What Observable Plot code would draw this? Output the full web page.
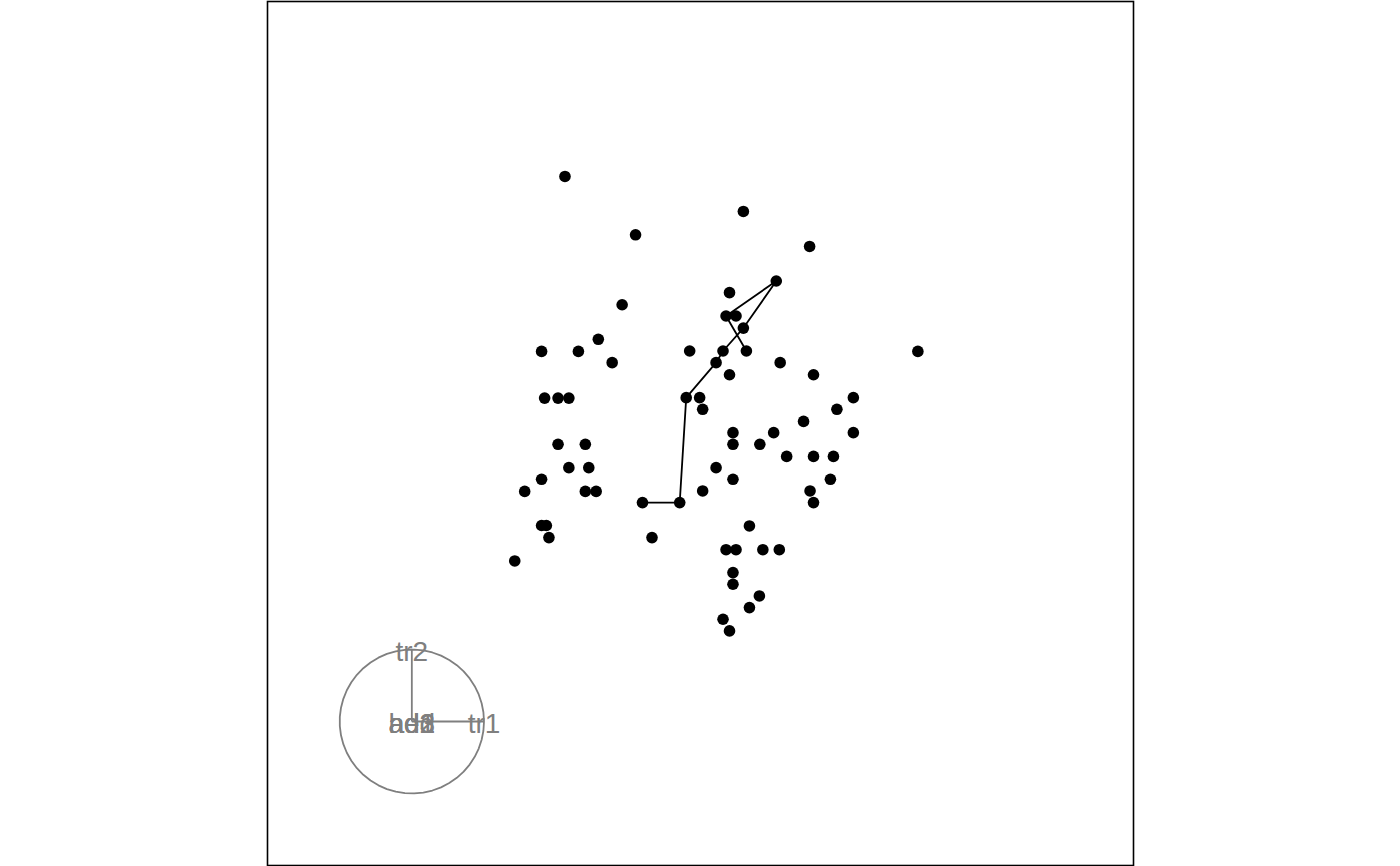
<!DOCTYPE html>
<html>
<head>
<meta charset="utf-8">
<script src="https://cdn.jsdelivr.net/npm/d3@7"></script>
<script src="https://cdn.jsdelivr.net/npm/@observablehq/plot@0.6"></script>
<style>
  html, body { margin: 0; padding: 0; background: #fff; }
  #chart svg { display: block; }
</style>
</head>
<body>
<div id="chart"></div>
<script>
// Projected point coordinates (tour projection, range -1..1)
const xs = [-0.313, 0.099, -0.150, 0.252, 0.175, 0.067, -0.181, 0.059, 0.082, 0.099,
  -0.236, -0.367, -0.282, -0.025, 0.052, 0.106, 0.502, -0.204, 0.036, 0.184,
  0.067, 0.261, -0.360, -0.329, -0.304, -0.033, -0.002, 0.353, 0.005, 0.315,
  0.238, 0.075, 0.169, 0.353, -0.329, -0.266, 0.075, 0.137, 0.199, 0.261,
  0.307, -0.304, -0.258, 0.036, -0.367, 0.075, 0.300, -0.406, -0.266, -0.241,
  0.005, 0.253, -0.134, -0.048, 0.261, -0.367, -0.356, 0.113, -0.350, -0.112,
  0.059, 0.082, 0.144, 0.182, -0.429, 0.075, 0.075, 0.136, 0.113, 0.052, 0.067];
const ys = [0.595, 0.514, 0.460, 0.433, 0.353, 0.326, 0.298, 0.272, 0.272, 0.244,
  0.218, 0.190, 0.190, 0.191, 0.191, 0.191, 0.190, 0.164, 0.164, 0.164,
  0.136, 0.136, 0.082, 0.082, 0.082, 0.083, 0.083, 0.083, 0.056, 0.056,
  0.028, 0.002, 0.002, 0.002, -0.025, -0.025, -0.025, -0.025, -0.053, -0.053,
  -0.053, -0.079, -0.079, -0.079, -0.106, -0.106, -0.106, -0.134, -0.134, -0.134,
  -0.133, -0.133, -0.160, -0.160, -0.160, -0.213, -0.213, -0.214, -0.241, -0.241,
  -0.269, -0.269, -0.269, -0.269, -0.295, -0.322, -0.349, -0.376, -0.403, -0.430, -0.457];

// Points joined by the line (1-based indices into xs/ys, in order)
const pathIdx = [53, 54, 26, 19, 15, 10, 5, 8, 16];

// Tour axes: variable labels and their projection coefficients
const axisLabels = ["tr1", "tr2", "hed", "ad1", "ad2", "ad3"];
const axisX = [1, 0, 0, 0, 0, 0];
const axisY = [0, 1, 0, 0, 0, 0];

const limits = 1;
const axisScale = limits / 6;
const axisPos = -2 / 3 * limits;
const adj = v => axisPos + v * axisScale;

const points = xs.map((x, i) => ({x, y: ys[i]}));
const pathPts = pathIdx.map(i => points[i - 1]);
const axes = axisLabels.map((label, i) => ({label, px: axisX[i], py: axisY[i]}));
const theta = d3.range(50).map(i => i * 2 * Math.PI / 49);
const circle = theta.map(t => ({x: adj(Math.cos(t)), y: adj(Math.sin(t))}));

const grey = "#7f7f7f";

const chart = Plot.plot({
  width: 1400,
  height: 866,
  marginLeft: 267,
  marginRight: 267,
  marginTop: 1,
  marginBottom: 1,
  x: {domain: [-1, 1], axis: null},
  y: {domain: [-1, 1], axis: null},
  style: {fontFamily: "'Liberation Sans', Arial, Helvetica, sans-serif", background: "white"},
  marks: [
    Plot.line(circle, {x: "x", y: "y", stroke: grey, strokeWidth: 1.8}),
    Plot.link(axes, {x1: () => adj(0), y1: () => adj(0), x2: d => adj(d.px), y2: d => adj(d.py), stroke: grey, strokeWidth: 1.8}),
    Plot.text(axes, {x: d => adj(d.px), y: d => adj(d.py), text: "label", fill: grey, fontSize: 28, dy: 3, textAnchor: "middle"}),
    Plot.line(pathPts, {x: "x", y: "y", stroke: "black", strokeWidth: 1.8}),
    Plot.dot(points, {x: "x", y: "y", r: 5.8, fill: "black", stroke: "none"}),
    Plot.frame({stroke: "black", strokeWidth: 1.6})
  ]
});
document.getElementById("chart").appendChild(chart);
</script>
</body>
</html>
